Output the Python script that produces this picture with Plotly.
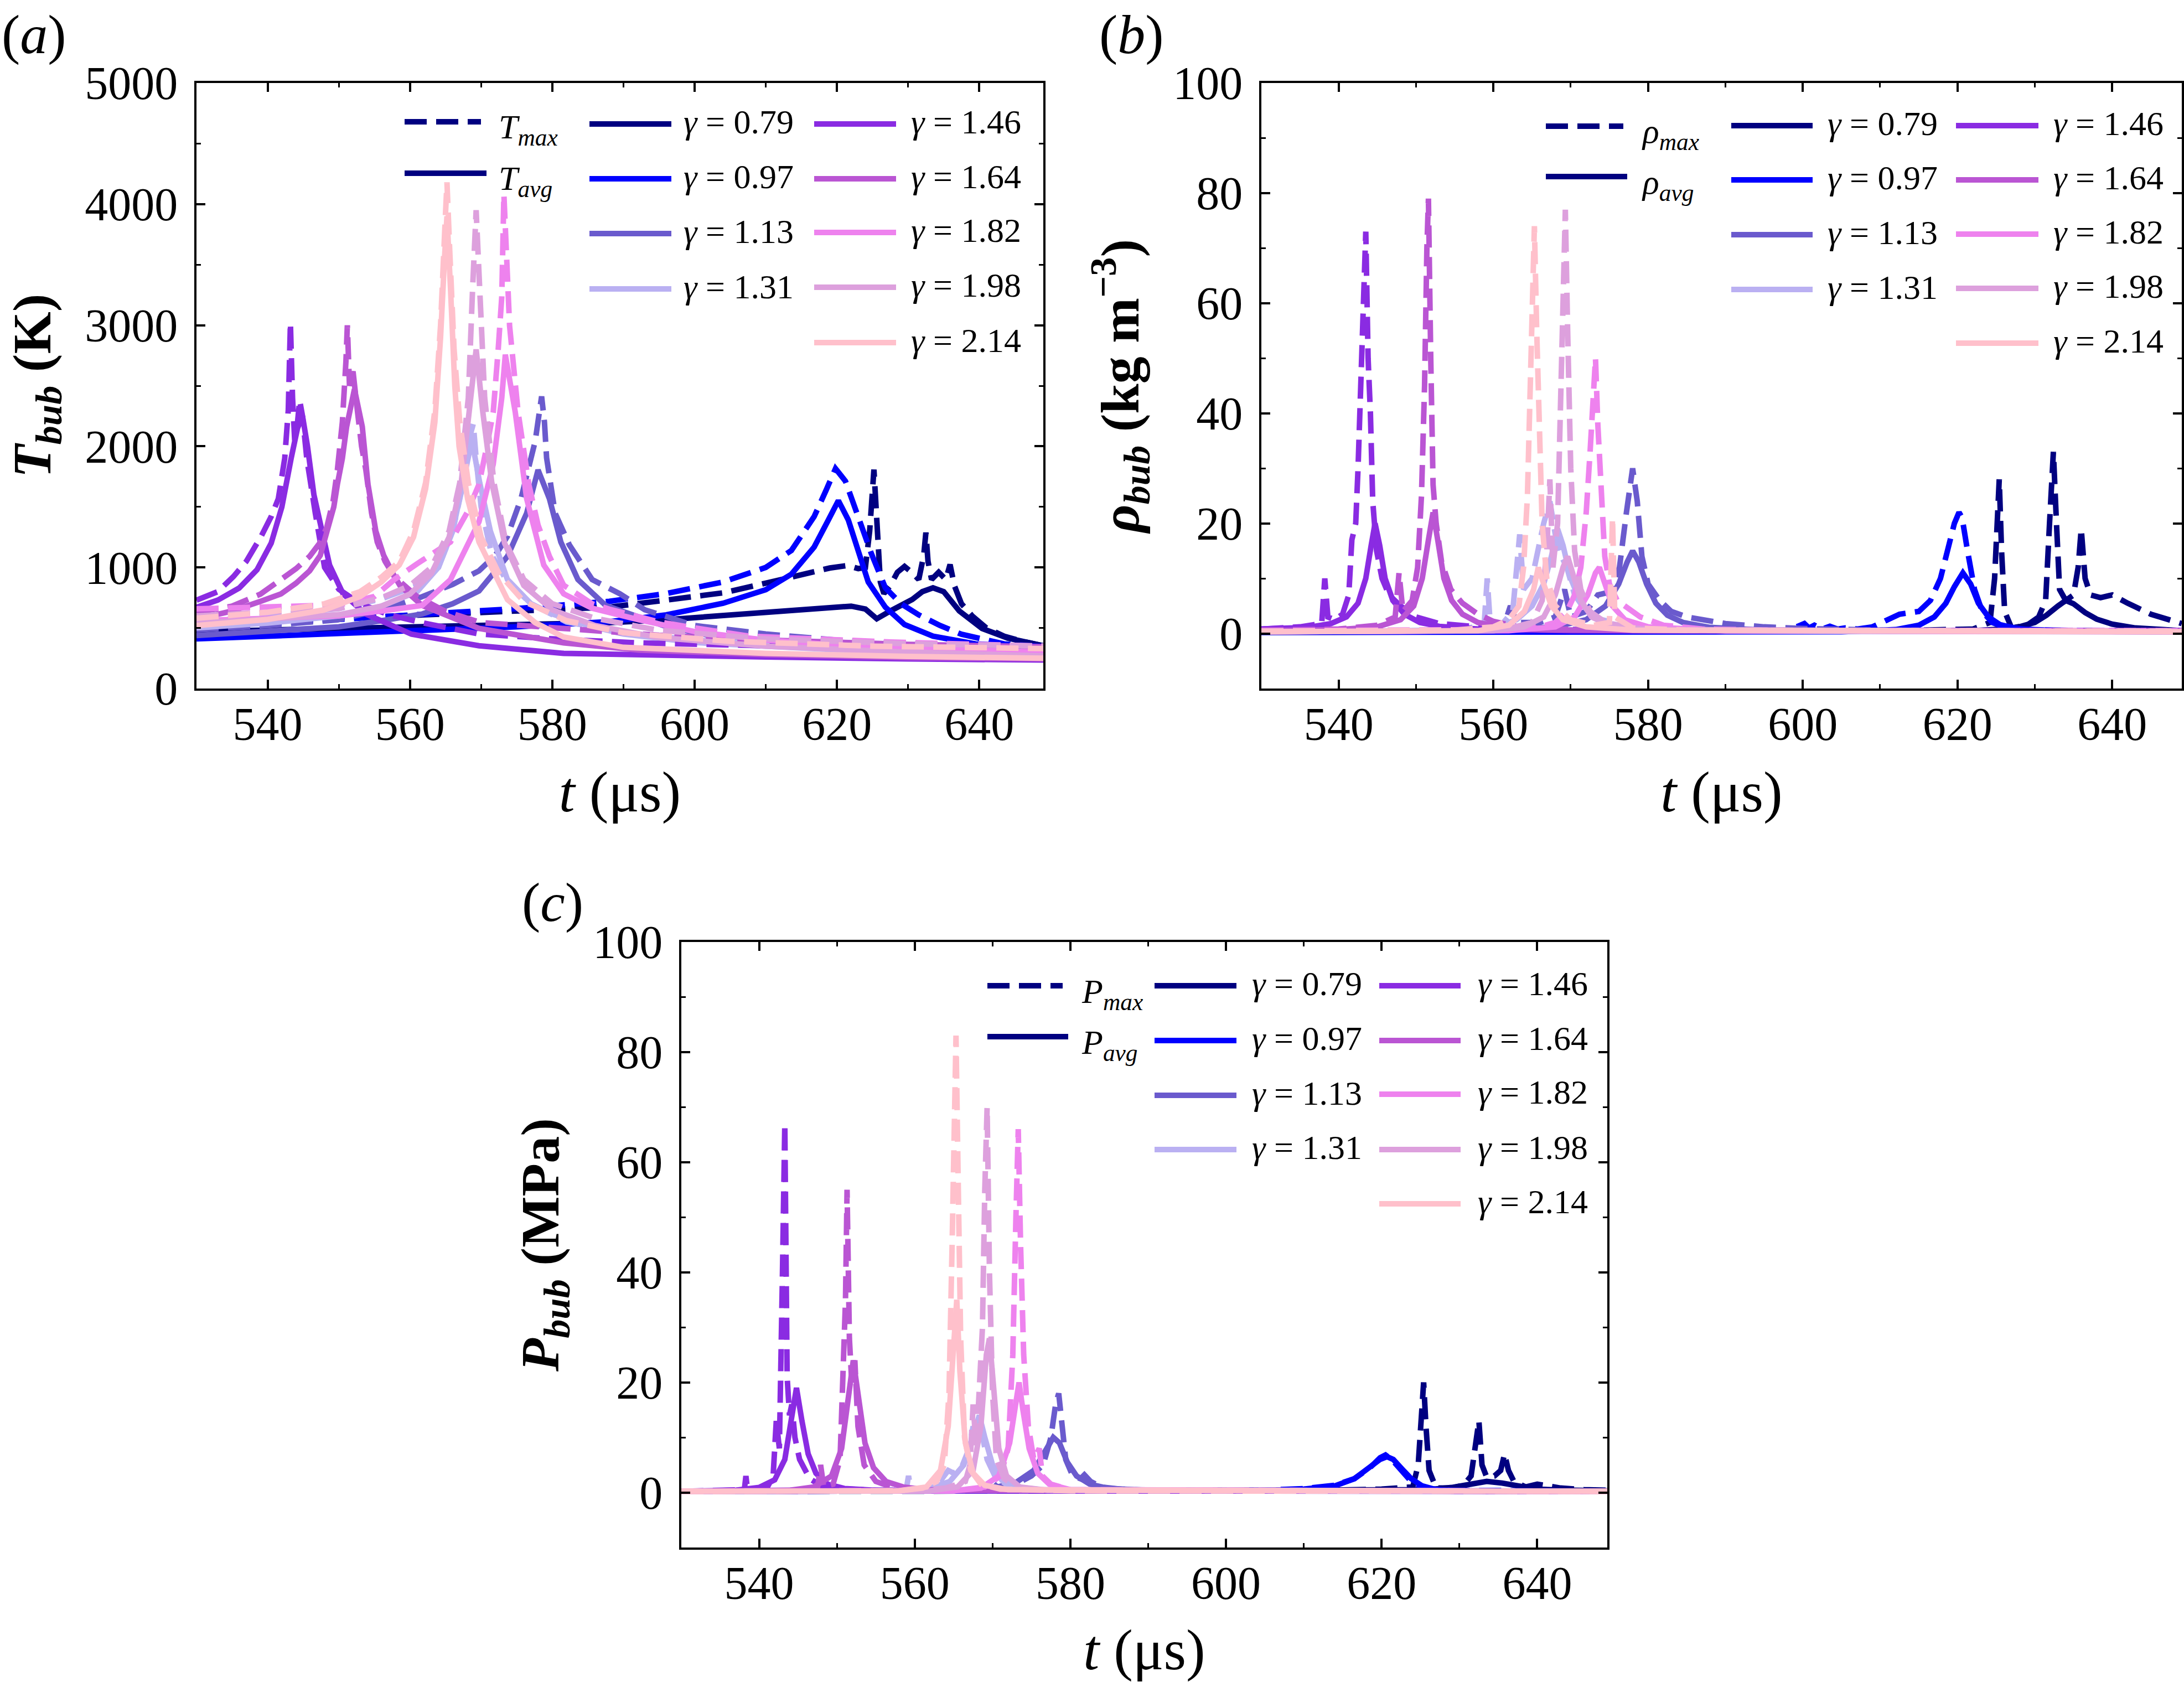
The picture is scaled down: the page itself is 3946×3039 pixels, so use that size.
import plotly.graph_objects as go

FONT = "Liberation Serif"
W, H = 3946, 3039

GAMMAS = ["0.79", "0.97", "1.13", "1.31", "1.46", "1.64", "1.82", "1.98", "2.14"]
COLORS = ["#000080", "#0000ff", "#6a5acd", "#bab0f2", "#8a2be2",
          "#ba55d3", "#ee82ee", "#dda0dd", "#ffc0cb"]
X_TICKS = [540, 560, 580, 600, 620, 640]
T_TICKS = [0, 1000, 2000, 3000, 4000, 5000]
R_TICKS = [0, 20, 40, 60, 80, 100]
P_TICKS = [0, 20, 40, 60, 80, 100]

# ---------------- (a) bubble temperature (K): (t, value) ----------------
T_MAX_079 = [(530,530),(540,555),(550,575),(560,600),(570,625),(580,650),(588,672),(596,730),(604,790),(610,870),(616,950),(619,995),(621.5,1016),(623,990),(624,1000),(624.6,1300),(625.2,1808),(625.7,1300),(626.1,880),(626.6,784),(627.5,850),(628.5,960),(629.5,1008),(630.5,960),(631.5,900),(632.2,1100),(632.5,1288),(632.8,1050),(633.3,900),(634.3,960),(635.3,900),(635.9,1024),(636.5,850),(637.5,700),(639,600),(641,500),(643.5,432),(646,390),(649,352)]
T_AVG_079 = [(530,470),(545,490),(560,505),(575,525),(588,544),(596,568),(608,624),(620,680),(622,680),(624,656),(625.6,576),(627.5,640),(630.6,736),(632,800),(633.5,832),(635,800),(637.2,640),(640.4,496),(644,416),(649,352)]
T_MAX_097 = [(530,500),(545,555),(560,610),(575,660),(588,720),(596,784),(604,880),(610,1000),(613.6,1140),(616.8,1420),(618.5,1640),(619.8,1816),(621.2,1712),(622.8,1440),(624.8,1120),(626.8,832),(629,700),(631.5,608),(634.5,520),(637.5,448),(643.5,368),(649,345)]
T_AVG_097 = [(530,410),(545,440),(560,470),(575,510),(588,552),(596,608),(604,704),(610,816),(613.6,944),(616.8,1168),(618.8,1392),(620.2,1552),(621.6,1392),(622.8,1168),(624.4,880),(626.8,672),(629.5,528),(633.5,432),(639.5,368),(649,344)]
T_MAX_113 = [(530,484),(540,520),(549.8,567),(556,650),(561.7,758),(566,860),(569.7,972),(572,1100),(573.7,1257),(575.6,1567),(577.6,2043),(578.1,2300),(578.5,2412),(578.9,2200),(579.2,1905),(580.4,1448),(582.4,1186),(585.6,900),(589.5,782),(593,650),(600,520),(610,450),(620,400),(630,370),(640,345),(649,330)]
T_AVG_113 = [(530,437),(540,470),(550,510),(556,560),(561.7,615),(566,700),(569.7,806),(573.7,1091),(576.4,1448),(578,1805),(579.6,1567),(581.2,1210),(583.6,900),(587.5,686),(592.2,591),(596,512),(602,440),(610,400),(620,370),(635,345),(649,330)]
T_MAX_131 = [(530,560),(540,600),(550,660),(556,740),(561,850),(564,1000),(566,1300),(567.5,1700),(568.5,2100),(568.9,2186),(569.3,1900),(570,1500),(571.5,1100),(573.5,900),(577,700),(582,550),(590,460),(600,400),(620,340),(649,300)]
T_AVG_131 = [(530,500),(540,540),(550,600),(556,680),(561,800),(564,1000),(566,1300),(567.5,1700),(568.7,2050),(569.8,1700),(571.3,1300),(573.7,900),(577,700),(580,615),(585,520),(590,450),(600,380),(620,320),(649,280)]
T_MAX_146 = [(530,730),(533,800),(535.2,925),(537,1050),(539.1,1258),(540.5,1420),(541.5,1567),(542.4,1900),(542.9,2300),(543.2,3020),(543.5,2400),(543.8,2050),(544.2,2200),(544.5,2380),(544.9,2250),(545.5,1900),(546.7,1448),(548,1000),(550,820),(553,700),(557,610),(562,540),(569.7,450),(580,410),(592,377),(605,355),(620,340),(635,325),(649,315)]
T_AVG_146 = [(530,670),(533,730),(536,830),(538.5,980),(540.5,1200),(542,1500),(543.3,1900),(544.2,2150),(544.9,2250),(545.6,2000),(546.5,1600),(547.5,1329),(548.7,1020),(550.6,782),(553.8,615),(560.2,449),(569.7,353),(581.6,290),(592.2,275),(610,260),(630,245),(649,235)]
T_MAX_164 = [(530,630),(535,680),(539,780),(541.9,900),(544,990),(545.9,1091),(547.3,1200),(548.3,1329),(549.2,1550),(549.8,1805),(550.5,2200),(551.0,2700),(551.2,3000),(551.5,2500),(552.0,2619),(552.6,2300),(553.2,2000),(553.8,1805),(554.6,1450),(555.4,1210),(556.5,1050),(557.8,924),(561,760),(564.9,639),(570,544),(581.6,496),(595,440),(610,400),(630,365),(649,345)]
T_AVG_164 = [(530,572),(535,640),(539,720),(541.9,782),(544,870),(545.9,972),(547.4,1100),(548.3,1281),(549.3,1500),(549.8,1686),(550.5,1900),(551.1,2162),(552.2,2472),(553.3,2162),(554.1,1686),(555.2,1300),(556.3,1100),(557.6,950),(558.6,850),(561.7,686),(569.7,496),(581.6,377),(592.2,318),(610,280),(630,255),(649,245)]
T_MAX_182 = [(530,658),(540,670),(550,690),(555,760),(557.8,900),(561,1030),(565.7,1210),(568,1450),(569.7,1686),(570.8,2000),(571.7,2281),(572.4,2800),(572.9,3233),(573.2,4080),(573.6,3500),(574.0,2995),(575.2,2281),(576.7,1686),(578,1350),(579.6,1091),(581.6,853),(585.6,700),(588,656),(595,550),(600,500),(607.7,432),(627.6,384),(649,350)]
T_AVG_182 = [(530,560),(540,575),(550,600),(556,640),(561.7,686),(565.7,900),(569.7,1377),(571.7,1852),(572.9,2400),(573.4,2757),(574.8,2281),(576.4,1567),(578.8,1020),(581.6,782),(585.6,663),(592.2,567),(600,470),(610,400),(625,340),(649,300)]
T_MAX_198 = [(530,600),(540,630),(550,660),(556,750),(560,850),(563,1000),(565.5,1300),(567,1700),(568.2,2400),(568.8,3300),(569.3,3950),(569.8,3300),(570.5,2400),(571.8,1700),(573.5,1200),(576,900),(580,700),(586,580),(595,480),(610,410),(630,370),(649,350)]
T_AVG_198 = [(530,540),(540,570),(550,610),(556,680),(560,780),(563,950),(565.5,1250),(567.2,1700),(568.5,2400),(569.3,2800),(570.2,2300),(571.5,1700),(573.3,1200),(576,850),(580,650),(586,520),(595,420),(610,350),(630,300),(649,270)]
T_MAX_214 = [(530,580),(540,630),(548,700),(553,800),(556,920),(558.5,1050),(560.5,1300),(562.2,1700),(563.5,2300),(564.3,3000),(564.9,3800),(565.2,4180),(565.6,3600),(566.2,2800),(567,2200),(568.2,1700),(570,1250),(572.5,950),(576,720),(582,560),(590,460),(605,390),(625,350),(649,330)]
T_AVG_214 = [(530,520),(540,570),(548,650),(553,760),(556,880),(558.5,1020),(560.5,1250),(562.2,1650),(563.5,2200),(564.3,2900),(564.9,3600),(565.2,3900),(565.7,3300),(566.3,2500),(566.9,2000),(568.1,1567),(569.7,1210),(571.7,972),(573.7,734),(577.6,544),(581.6,425),(590,340),(610,290),(630,265),(649,250)]

# ---------------- (b) bubble density (kg m^-3) ----------------
R_MAX_079 = [(530,0.3),(600,0.4),(615,0.6),(622,0.8),(624.2,2),(624.8,10),(625.1,22),(625.4,28),(625.7,15),(626.1,4),(627,1),(629,1.5),(630.5,3),(631.4,6),(631.9,20),(632.4,33),(632.8,20),(633.2,8),(634,6),(635,7),(635.6,12),(636,19),(636.5,10),(637.2,7),(638.5,6.5),(640,7),(642,5.5),(645,3.5),(649,1.8)]
R_AVG_079 = [(530,0.2),(610,0.3),(622,0.5),(626,0.8),(628,1.2),(630,2),(631.5,3.3),(633,5),(634,6),(635,5.4),(636.5,3.8),(638,2.6),(640,1.7),(643,1),(649,0.5)]
R_MAX_097 = [(530,0.3),(598,0.5),(600.2,1.8),(600.8,1),(601.5,1.5),(602.5,0.8),(603.5,1.3),(604.5,0.8),(605.5,1.0),(607,0.8),(609,1.2),(611,2.5),(612.5,3.5),(615,4),(616.5,6),(617.8,10),(618.7,15),(619.6,20),(620.2,22),(620.6,21),(621.3,15),(622.2,8),(623.2,4),(624.5,2),(626,1.2),(629,0.7),(640,0.4),(649,0.3)]
R_AVG_097 = [(530,0.2),(605,0.3),(612,0.7),(615,1.5),(617,3),(618.5,5.5),(619.6,8.5),(620.7,11),(621.7,9),(622.7,5.5),(624,3),(625.5,1.6),(628,0.8),(635,0.4),(649,0.3)]
R_MAX_113 = [(530,0.4),(550,0.5),(558,0.8),(561.5,2),(562.2,5),(563,2),(566,2),(568,3),(569.2,8),(570,3),(572,4),(573.5,7),(575,7.5),(576.3,12),(577.2,22),(578,30),(578.6,24),(579.2,14),(580,9),(581.5,6),(583,4),(585,3),(590,1.8),(595,1.2),(600,0.9),(610,0.6),(649,0.4)]
R_AVG_113 = [(530,0.3),(560,0.6),(568,1.2),(572,2.5),(574.5,5),(576.2,9),(577.3,13),(578,15),(578.8,13),(579.8,9),(581,5.5),(582.5,3.3),(584.5,2),(588,1.1),(595,0.6),(649,0.3)]
R_MAX_131 = [(530,0.4),(555,0.6),(558.8,1.5),(559.2,10),(559.6,1.5),(561,1.5),(562.5,4),(563.1,12),(563.4,18),(563.9,8),(565,10),(566.5,20),(567.3,24),(568,18),(568.8,14),(569.5,12),(570.5,7),(572,4),(574,2.5),(577,1.5),(582,0.9),(590,0.6),(649,0.4)]
R_AVG_131 = [(530,0.3),(555,0.5),(560,1),(563,2.5),(565,5),(566.5,9),(567.5,14),(568.3,19),(569,16),(570,10),(571.3,5.5),(573,3),(575.5,1.6),(580,0.8),(590,0.4),(649,0.3)]
R_MAX_146 = [(530,0.8),(535,1.2),(537.8,1.8),(538.2,10),(538.6,3),(539.5,2.5),(540.5,3.5),(541.3,7),(541.7,17),(542.2,20),(542.5,30),(542.9,45),(543.2,60),(543.5,73),(543.8,50),(544.1,40),(544.4,24),(544.9,15),(545.6,10),(546.5,7),(548,5),(550,3),(553,1.8),(558,1.2),(565,0.8),(580,0.6),(649,0.5)]
R_AVG_146 = [(530,0.8),(536,1.1),(539,1.8),(541,3),(542.5,5.5),(543.5,10),(544.2,16),(544.7,20),(545.3,16),(546,10),(547,6),(548.5,3.5),(550.5,2),(553,1.3),(558,0.8),(570,0.5),(649,0.4)]
R_MAX_164 = [(530,0.6),(540,0.8),(545,1.5),(547.3,3),(547.8,11),(548.3,4),(549.5,6),(550.2,12),(550.7,25),(551.1,45),(551.4,70),(551.6,79),(551.9,50),(552.2,27),(552.6,20),(553.3,13),(554.5,8),(556,5.5),(558,3.5),(560,2.2),(563,1.3),(568,0.8),(580,0.6),(649,0.5)]
R_AVG_164 = [(530,0.5),(540,0.7),(545,1.2),(548,2.5),(549.7,5),(550.8,10),(551.6,17),(552.2,22),(552.8,17),(553.6,10),(554.6,6),(556,3.5),(558,2),(561,1.2),(566,0.7),(580,0.5),(649,0.4)]
R_MAX_182 = [(530,0.5),(560,0.7),(566,1.2),(568,2),(569.5,4),(570.5,7),(571.3,12),(572,22),(572.5,33),(572.9,45),(573.2,50),(573.5,38),(573.9,25),(574.4,14),(575,9),(576,6),(577,5),(579,3),(582,1.5),(587,0.8),(600,0.5),(649,0.5)]
R_AVG_182 = [(530,0.3),(562,0.5),(568,1.2),(570.5,3),(572.2,7),(573.2,11),(573.7,12),(574.4,9),(575.4,5),(577,2.5),(580,1.2),(590,0.5),(649,0.3)]
R_MAX_198 = [(530,0.4),(555,0.5),(562,0.9),(565,2),(566.3,6),(566.9,15),(567.3,28),(567.7,12),(568.3,20),(568.8,45),(569.1,65),(569.3,77),(569.6,55),(570,30),(570.5,15),(571.3,8),(572.5,4),(574.5,2),(578,1),(585,0.6),(649,0.4)]
R_AVG_198 = [(530,0.3),(560,0.5),(564,1.2),(566.5,3),(568,7),(569,12),(569.6,14),(570.3,11),(571.3,6),(572.7,3),(575,1.5),(580,0.7),(649,0.3)]
R_MAX_214 = [(530,0.4),(555,0.6),(560,1.2),(562,2.5),(563.3,5),(563.9,12),(564.4,25),(564.8,45),(565.1,65),(565.3,74),(565.6,55),(565.9,35),(566.3,20),(566.9,10),(568,5),(570,2.5),(573,1.5),(575,2),(575.4,21),(575.7,3),(578,1),(585,0.6),(649,0.4)]
R_AVG_214 = [(530,0.3),(558,0.5),(562,1.5),(564,4),(565.2,8),(565.8,12),(566.5,9),(567.5,5),(569,2.5),(572,1.2),(578,0.6),(649,0.3)]

# ---------------- (c) bubble pressure (MPa) ----------------
P_MAX_079 = [(530,0.2),(610,0.3),(620,0.6),(624,1),(624.7,5),(625.1,14),(625.4,20),(625.7,12),(626.1,4),(627,0.8),(629,0.8),(630.5,1.3),(631.5,3),(632.1,9),(632.5,13),(632.9,5),(633.5,2.8),(634.5,3),(635.3,4),(635.8,7),(636.3,4),(637,2),(638.5,1),(640,1.5),(641,1.2),(643,0.8),(646,0.5),(649,0.4)]
P_AVG_079 = [(530,0.2),(620,0.3),(626,0.5),(629,0.9),(631,1.4),(633.5,2),(635.5,1.7),(637.5,1.1),(640,0.6),(644,0.4),(649,0.3)]
P_MAX_097 = [(530,0.2),(600,0.3),(605,0.4),(610,0.7),(614,1.3),(616.5,2.5),(618.5,4.5),(619.8,6.3),(620.5,6.8),(621.3,6),(622.5,4),(623.8,2),(625.5,0.8),(628,0.4),(649,0.2)]
P_AVG_097 = [(530,0.2),(600,0.3),(606,0.4),(610,0.6),(614,1.2),(616.5,2.5),(618.5,4.5),(619.8,6),(620.7,6.5),(621.5,6),(622.6,4.3),(623.8,2.5),(625.2,1.2),(627,0.5),(630,0.3),(649,0.2)]
P_MAX_113 = [(530,0.2),(565,0.3),(569,0.6),(570,1.8),(570.6,1),(573,1.5),(575,3),(576.5,5),(577.5,10),(578.1,16),(578.5,18),(578.9,12),(579.4,6),(580.3,3),(581.3,2.5),(581.8,3.2),(582.6,2),(584,1),(587,0.5),(600,0.3),(649,0.2)]
P_AVG_113 = [(530,0.2),(565,0.3),(570,0.8),(573,1.8),(575.3,4),(576.8,7.5),(577.8,10),(578.6,9),(579.6,5.5),(580.8,3),(582.5,1.5),(585,0.7),(590,0.4),(649,0.2)]
P_MAX_131 = [(530,0.2),(555,0.3),(558.9,0.5),(559.2,3),(559.5,0.5),(562,0.8),(563.5,2.5),(564.3,4),(565,3.5),(566,4.5),(567,8),(567.5,12),(568,9),(568.6,11),(569.3,6),(570.3,3),(572,1.2),(575,0.5),(649,0.2)]
P_AVG_131 = [(530,0.2),(558,0.3),(562,0.8),(564.5,2),(566.3,5),(567.5,10),(568.3,14),(569,10),(570,5),(571.2,2.2),(573,0.9),(577,0.3),(649,0.2)]
P_MAX_146 = [(530,0.2),(537.5,0.3),(538.1,0.5),(538.3,3),(538.5,0.5),(541,0.8),(541.8,3),(542.2,13),(542.6,8),(543.0,40),(543.3,67),(543.6,21),(543.9,14),(544.2,16),(544.6,10),(545.2,6),(546.5,2.5),(548,1.2),(550,0.7),(555,0.4),(649,0.2)]
P_AVG_146 = [(530,0.2),(537,0.4),(540,0.9),(542,2.3),(543.3,6),(544.1,13),(544.8,19),(545.5,13),(546.3,7),(547.3,3.5),(548.8,1.5),(551,0.7),(556,0.3),(649,0.2)]
P_MAX_164 = [(530,0.2),(545,0.4),(547.5,0.8),(547.9,5),(548.3,1),(549.5,1.5),(550.4,6),(550.8,20),(551.1,35),(551.3,55),(551.6,28),(551.9,20),(552.3,24),(552.7,12),(553.5,5),(555,2),(557,1),(560,0.5),(649,0.2)]
P_AVG_164 = [(530,0.2),(544,0.4),(547,1),(549.3,3),(550.6,8),(551.5,17),(552.1,24),(552.8,17),(553.6,9),(554.7,4.5),(556.3,2),(558.5,1),(562,0.4),(649,0.2)]
P_MAX_182 = [(530,0.2),(565,0.3),(569,1),(571,3),(572,8),(572.6,25),(573.0,50),(573.3,66),(573.6,45),(574.0,25),(574.6,12),(575.3,6),(576,8),(576.4,3),(577.5,1.5),(580,0.5),(649,0.2)]
P_AVG_182 = [(530,0.2),(565,0.3),(568.5,0.8),(570.8,3),(572.2,9),(573,17),(573.4,20),(573.9,15),(574.7,8),(575.8,3.5),(577.3,1.5),(580,0.5),(649,0.2)]
P_MAX_198 = [(530,0.2),(560,0.3),(564,0.8),(566.5,2),(567.1,5),(567.5,16),(567.9,8),(568.7,30),(569.0,55),(569.3,70),(569.6,40),(570,18),(570.5,6),(571.5,2.5),(573,1),(577,0.4),(649,0.2)]
P_AVG_198 = [(530,0.2),(562,0.3),(565.5,1),(567.5,4),(568.5,12),(569.2,25),(569.6,28),(570.1,20),(570.8,8),(571.8,3),(573.5,1),(577,0.4),(649,0.2)]
P_MAX_214 = [(530,0.2),(558,0.3),(561,0.8),(562.8,2),(563.8,5),(564.4,18),(564.8,45),(565.1,70),(565.3,83),(565.6,55),(565.9,28),(566.4,10),(567.2,4),(568.5,1.5),(571,0.6),(580,0.3),(649,0.2)]
P_AVG_214 = [(530,0.2),(558,0.3),(561.5,1),(563.3,4),(564.3,12),(565,28),(565.4,35),(565.8,22),(566.5,9),(567.5,3.5),(569,1.3),(572,0.5),(649,0.2)]

T_MAX = [T_MAX_079, T_MAX_097, T_MAX_113, T_MAX_131, T_MAX_146, T_MAX_164, T_MAX_182, T_MAX_198, T_MAX_214]
T_AVG = [T_AVG_079, T_AVG_097, T_AVG_113, T_AVG_131, T_AVG_146, T_AVG_164, T_AVG_182, T_AVG_198, T_AVG_214]
R_MAX = [R_MAX_079, R_MAX_097, R_MAX_113, R_MAX_131, R_MAX_146, R_MAX_164, R_MAX_182, R_MAX_198, R_MAX_214]
R_AVG = [R_AVG_079, R_AVG_097, R_AVG_113, R_AVG_131, R_AVG_146, R_AVG_164, R_AVG_182, R_AVG_198, R_AVG_214]
P_MAX = [P_MAX_079, P_MAX_097, P_MAX_113, P_MAX_131, P_MAX_146, P_MAX_164, P_MAX_182, P_MAX_198, P_MAX_214]
P_AVG = [P_AVG_079, P_AVG_097, P_AVG_113, P_AVG_131, P_AVG_146, P_AVG_164, P_AVG_182, P_AVG_198, P_AVG_214]

DASH = "40px,17px"
LW = 10


def px(x):
    return x / W


def py(y):
    return 1 - y / H


fig = go.Figure()

panels = [
    ("x", "y", T_MAX, T_AVG, "T"),
    ("x2", "y2", R_MAX, R_AVG, "ρ"),
    ("x3", "y3", P_MAX, P_AVG, "P"),
]
for xa, ya, mx, av, sym in panels:
    for g, c, m, a in zip(GAMMAS, COLORS, mx, av):
        fig.add_trace(go.Scatter(
            x=[p[0] for p in m], y=[p[1] for p in m], xaxis=xa, yaxis=ya,
            mode="lines", line=dict(color=c, width=LW, dash=DASH),
            name=f"{sym}max, γ = {g}", showlegend=False, hoverinfo="skip"))
        fig.add_trace(go.Scatter(
            x=[p[0] for p in a], y=[p[1] for p in a], xaxis=xa, yaxis=ya,
            mode="lines", line=dict(color=c, width=LW),
            name=f"{sym}avg, γ = {g}", showlegend=False, hoverinfo="skip"))

TICKFONT = dict(family=FONT, size=84, color="black")


def x_axis(x0, x1, anchor):
    return dict(
        domain=[px(x0), px(x1)], anchor=anchor, range=[530, 649], automargin=False,
        tickmode="array", tickvals=X_TICKS,
        showline=True, linewidth=4, linecolor="black", mirror="ticks",
        ticks="inside", ticklen=16, tickwidth=4, tickcolor="black",
        minor=dict(tickmode="linear", tick0=530, dtick=10, ticks="inside",
                   ticklen=8, tickwidth=3, tickcolor="black", showgrid=False),
        showgrid=False, zeroline=False, tickfont=TICKFONT,
        ticklabelstandoff=-12,
        title=dict(text="<i>t</i> (μs)", font=dict(family=FONT, size=104, color="black"),
                   standoff=40),
    )


def y_axis(y0, y1, anchor, rng, tickvals, minor_dtick, title):
    return dict(
        domain=[py(y1), py(y0)], anchor=anchor, range=rng, automargin=False,
        tickmode="array", tickvals=tickvals,
        showline=True, linewidth=4, linecolor="black", mirror="ticks",
        ticks="inside", ticklen=16, tickwidth=4, tickcolor="black",
        minor=dict(tickmode="linear", tick0=0, dtick=minor_dtick, ticks="inside",
                   ticklen=8, tickwidth=3, tickcolor="black", showgrid=False),
        showgrid=False, zeroline=False, tickfont=TICKFONT,
        ticklabelstandoff=13,
        title=dict(text=title, font=dict(family=FONT, size=98, color="black"),
                   standoff=30),
    )


fig.update_layout(
    template="none",
    width=W, height=H, margin=dict(l=0, r=0, t=0, b=0, pad=0, autoexpand=False),
    paper_bgcolor="white", plot_bgcolor="white",
    font=dict(family=FONT, color="black"),
    showlegend=False,
    xaxis=x_axis(355, 1885, "y"),
    yaxis=y_axis(150, 1244, "x", [0, 5000], T_TICKS, 500,
                 "<b><i>T</i><sub><i>bub</i></sub> (K)</b>"),
    xaxis2=x_axis(2279, 3942, "y2"),
    yaxis2=y_axis(150, 1244, "x2", [-10, 100], R_TICKS, 10,
                  "<b><i>ρ</i><sub><i>bub</i></sub> (kg m<sup>−3</sup>)</b>"),
    xaxis3=x_axis(1231, 2904, "y3"),
    yaxis3=y_axis(1702, 2796, "x3", [-10, 100], P_TICKS, 10,
                  "<b><i>P</i><sub><i>bub</i></sub> (MPa)</b>"),
)

annotations = []
shapes = []

# panel labels
for txt, xc, yc in [("(<i>a</i>)", 62, 62), ("(<i>b</i>)", 2045, 62), ("(<i>c</i>)", 998, 1630)]:
    annotations.append(dict(text=txt, x=px(xc), y=py(yc), xref="paper", yref="paper",
                            xanchor="center", yanchor="middle", showarrow=False,
                            font=dict(family=FONT, size=100, color="black")))

LEGFONT = dict(family=FONT, size=62, color="black")
legends = [
    ("T", (731, 869, 879, 899, 220, 313), (1065, 1213, 1233, [224, 323, 422, 522]),
     (1471, 1619, 1644, [224, 323, 420, 519, 619])),
    ("ρ", (2793, 2933, 2940, 2964, 228, 319), (3128, 3275, 3300, [227, 325, 424, 523]),
     (3534, 3683, 3708, [227, 325, 423, 521, 620])),
    ("P", (1784, 1920, 1930, 1952, 1781, 1873), (2086, 2234, 2260, [1781, 1880, 1979, 2077]),
     (2492, 2639, 2668, [1781, 1880, 1977, 2077, 2175])),
]
for sym, c1, c2, c3 in legends:
    x0, xd, xs, tx, ymx, yav = c1
    shapes.append(dict(type="line", xref="paper", yref="paper", x0=px(x0), x1=px(xd),
                       y0=py(ymx), y1=py(ymx), line=dict(color=COLORS[0], width=10, dash=DASH)))
    shapes.append(dict(type="line", xref="paper", yref="paper", x0=px(x0), x1=px(xs),
                       y0=py(yav), y1=py(yav), line=dict(color=COLORS[0], width=10)))
    for lab, yy in [("max", ymx), ("avg", yav)]:
        annotations.append(dict(text=f"<i>{sym}</i><sub><i>{lab}</i></sub>", x=px(tx), y=py(yy + 14),
                                xref="paper", yref="paper", xanchor="left", yanchor="middle",
                                showarrow=False, font=LEGFONT))
    idx = 0
    for (lx0, lx1, ltx, rows) in (c2, c3):
        for yy in rows:
            shapes.append(dict(type="line", xref="paper", yref="paper", x0=px(lx0), x1=px(lx1),
                               y0=py(yy), y1=py(yy), line=dict(color=COLORS[idx], width=10)))
            annotations.append(dict(text=f"<i>γ</i> = {GAMMAS[idx]}", x=px(ltx), y=py(yy - 4),
                                    xref="paper", yref="paper", xanchor="left", yanchor="middle",
                                    showarrow=False, font=LEGFONT))
            idx += 1

fig.update_layout(annotations=annotations, shapes=shapes)

fig.write_html("out.html", config={"displayModeBar": False},
               post_script="document.body.style.margin='0';document.body.style.overflow='hidden';")
